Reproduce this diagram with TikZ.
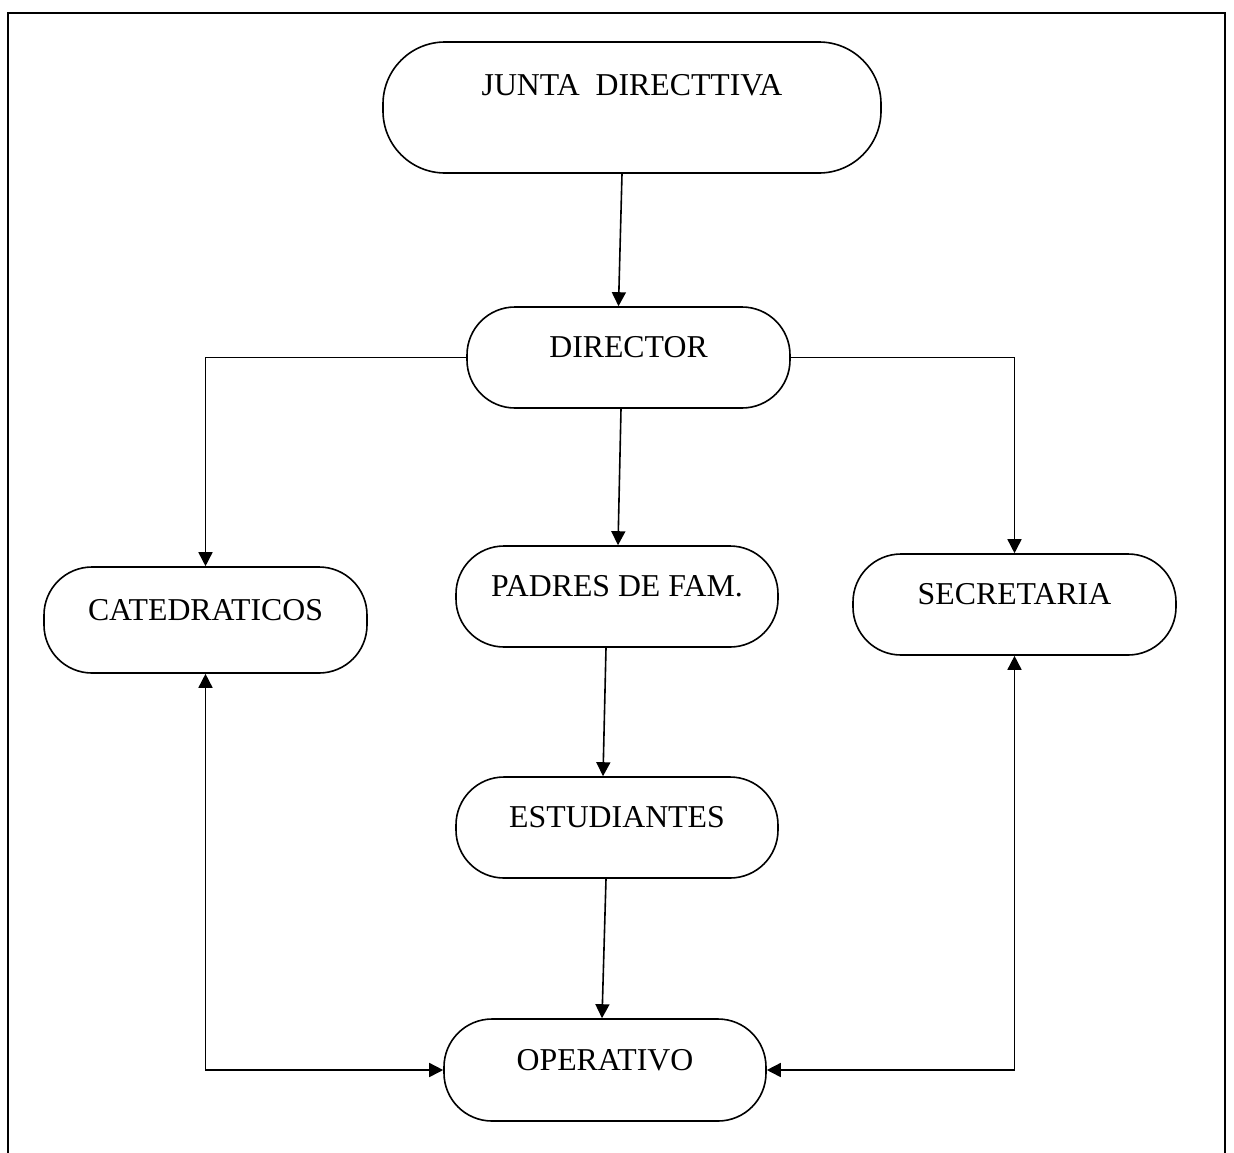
\documentclass[tikz,border=0pt]{standalone}
\usepackage{fontspec}
\setmainfont{Liberation Serif}
\usetikzlibrary{arrows.meta}
\begin{document}
\begin{tikzpicture}[x=1pt,y=-1pt,
  box/.style={draw, line width=1.6pt, rounded corners=48pt, inner sep=0pt,
    minimum width=323pt, minimum height=101pt, text height=10pt, text depth=10pt,
    font=\fontsize{31.8}{36}\selectfont},
  conn/.style={line width=1.6pt, -{Triangle[length=14pt,width=14pt]}},
  conn2/.style={line width=1.6pt, {Triangle[length=14pt,width=14pt]}-{Triangle[length=14pt,width=14pt]}}]
\useasboundingbox (0,0) rectangle (1234,1152);
\clip (0,0) rectangle (1234,1152);
\draw[line width=2.2pt] (8,13) rectangle (1225,1220);

\node[box, minimum width=498pt, minimum height=131pt, rounded corners=62pt,
      text height=0pt, text depth=24pt] (junta) at (632,107.5) {JUNTA\ \ DIRECTTIVA};
\node[box] (dir) at (628.5,357.5) {DIRECTOR};
\node[box, minimum height=106pt] (cat) at (205.5,620) {CATEDRATICOS};
\node[box, minimum width=322pt] (pad) at (617,596.5) {PADRES DE FAM.};
\node[box] (sec) at (1014.5,604.5) {SECRETARIA};
\node[box, minimum width=322pt] (est) at (617,827.5) {ESTUDIANTES};
\node[box, minimum width=322pt, minimum height=102pt] (op) at (605,1070) {OPERATIVO};

\draw[conn] ([xshift=-10pt]junta.south) -- ([xshift=-10pt]dir.north);
\draw[conn] ([xshift=-7.5pt]dir.south) -- ([xshift=1pt]pad.north);
\draw[conn] ([xshift=-11pt]pad.south) -- ([xshift=-14pt]est.north);
\draw[conn] ([xshift=-11pt]est.south) -- ([xshift=-3pt]op.north);
\draw[conn] (dir.west) -| (cat.north);
\draw[conn] (dir.east) -| (sec.north);
\draw[conn2] (cat.south) |- (op.west);
\draw[conn2] (sec.south) |- (op.east);
\end{tikzpicture}
\end{document}
